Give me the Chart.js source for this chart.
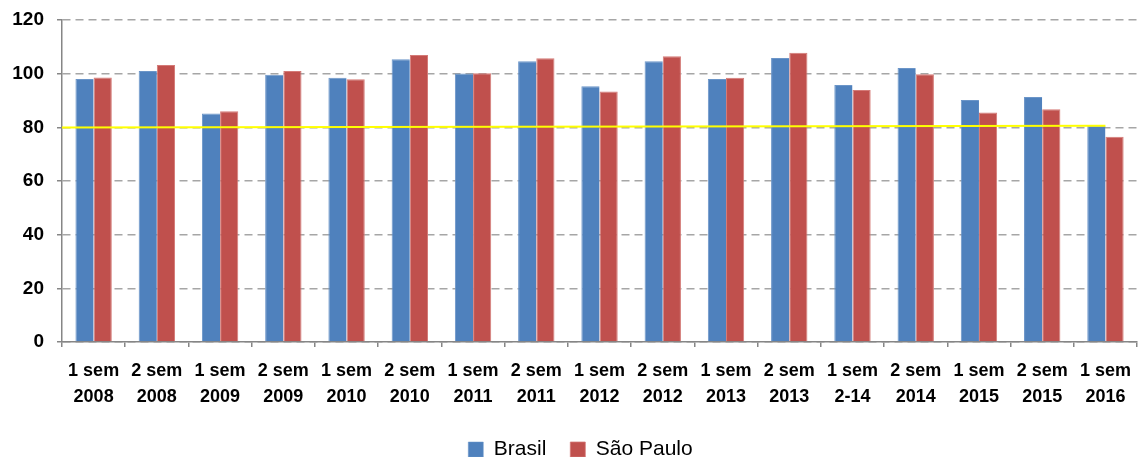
<!DOCTYPE html>
<html>
<head>
<meta charset="utf-8">
<script src="https://cdn.jsdelivr.net/npm/chart.js@4/dist/chart.umd.min.js"></script>
<style>
  html, body { margin: 0; padding: 0; background: #ffffff; }
  #wrap { width: 1142px; height: 457px; }
</style>
</head>
<body>
<div id="wrap"><canvas id="chart" width="1142" height="457"></canvas></div>
<script>
// Semesters shown on the category axis (two-line labels)
const periods = ['1 sem', '2 sem', '1 sem', '2 sem', '1 sem', '2 sem', '1 sem', '2 sem', '1 sem',
                 '2 sem', '1 sem', '2 sem', '1 sem', '2 sem', '1 sem', '2 sem', '1 sem'];
const years = ['2008', '2008', '2009', '2009', '2010', '2010', '2011', '2011', '2012',
               '2012', '2013', '2013', '2-14', '2014', '2015', '2015', '2016'];

// Index values per semester
const brasil   = [98.0, 101.0, 85.2, 99.6, 98.5, 105.4, 100.1, 104.6, 95.3,
                  104.6, 98.0, 105.8, 95.8, 102.1, 90.2, 91.3, 80.6];
const saoPaulo = [98.6, 103.2, 86.0, 101.0, 97.9, 107.0, 100.2, 105.7, 93.4,
                  106.5, 98.5, 107.8, 93.9, 99.8, 85.5, 86.7, 76.5];

// Reference line: start/end along the semester index and its values
const refX = [-0.5, 16];
const refY = [79.9, 80.6];

// Value axis
const yMin = 0;
const yMax = 120;
const yStep = 20;

const labels = periods.map((p, i) => [p, years[i]]);

// Draws the yellow reference line on top of the bars using the chart scales
const referenceLine = {
  id: 'referenceLine',
  afterDatasetsDraw(chart) {
    const { ctx, scales: { x, y } } = chart;
    ctx.save();
    ctx.strokeStyle = '#FFFF00';
    ctx.lineWidth = 2;
    ctx.beginPath();
    refX.forEach((v, i) => {
      const px = x.getPixelForValue(v);
      const py = y.getPixelForValue(refY[i]);
      if (i === 0) ctx.moveTo(px, py); else ctx.lineTo(px, py);
    });
    ctx.stroke();
    ctx.restore();
  }
};

// Centres the legend a little to the right, under the plot
const legendShift = {
  id: 'legendShift',
  afterLayout(chart) {
    if (chart.legend) chart.legend.left += 20;
  }
};

new Chart(document.getElementById('chart'), {
  type: 'bar',
  data: {
    labels: labels,
    datasets: [
      {
        label: 'Brasil',
        data: brasil,
        backgroundColor: '#4F81BD',
        borderColor: '#6B95C8',
        borderWidth: { top: 1, left: 1, right: 0, bottom: 0 },
        categoryPercentage: 0.575,
        barPercentage: 1.0
      },
      {
        label: 'São Paulo',
        data: saoPaulo,
        backgroundColor: '#C0504D',
        borderColor: '#D47A77',
        borderWidth: { top: 1, left: 1, right: 1, bottom: 0 },
        categoryPercentage: 0.575,
        barPercentage: 1.0
      }
    ]
  },
  plugins: [referenceLine, legendShift],
  options: {
    responsive: false,
    animation: false,
    devicePixelRatio: 1,
    layout: { padding: { top: 20, right: 1, left: 0, bottom: -13 } },
    plugins: {
      tooltip: { enabled: false },
      legend: {
        position: 'bottom',
        labels: {
          boxWidth: 15,
          boxHeight: 15,
          padding: 24,
          color: '#000000',
          font: { family: 'Liberation Sans', size: 21 }
        }
      }
    },
    scales: {
      x: {
        offset: true,
        grid: {
          offset: true,
          drawOnChartArea: false,
          drawTicks: true,
          tickLength: 5,
          color: '#868686',
          lineWidth: 1.5
        },
        border: { display: true, color: '#868686', width: 1.5 },
        ticks: {
          autoSkip: false,
          maxRotation: 0,
          padding: 11,
          color: '#000000',
          font: { family: 'Liberation Sans', size: 18, weight: 'bold', lineHeight: 1.45 }
        },
        afterFit: (scale) => { scale.height = 73; }
      },
      y: {
        min: yMin,
        max: yMax,
        ticks: {
          stepSize: yStep,
          padding: 13,
          color: '#000000',
          font: { family: 'Liberation Sans', size: 19, weight: 'bold' }
        },
        grid: {
          color: '#A6A6A6',
          lineWidth: 1.5,
          tickLength: 5,
          tickColor: '#868686',
          tickBorderDash: []
        },
        border: { display: true, color: '#868686', width: 1.5, dash: [8, 5] },
        afterFit: (scale) => {
          scale.width = 62;
          scale.paddingTop = 0;
          scale.paddingBottom = 0;
        }
      }
    }
  }
});
</script>
</body>
</html>
